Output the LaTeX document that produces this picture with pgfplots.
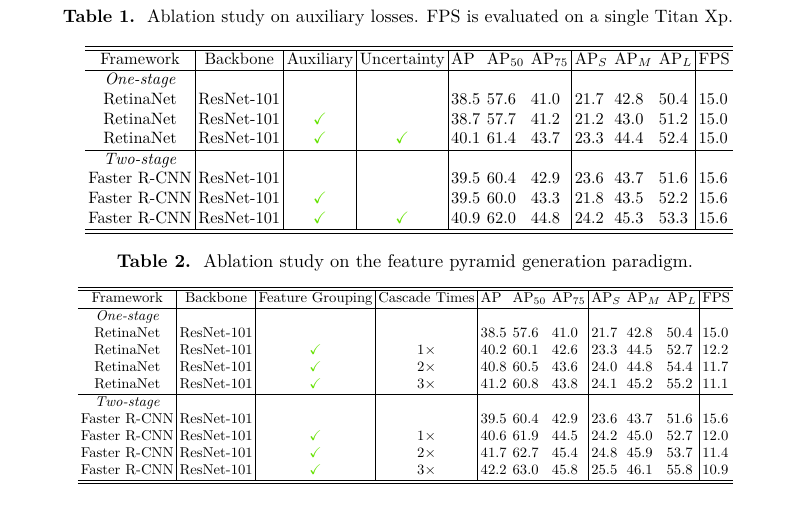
\documentclass[border=0pt]{standalone}
\usepackage{pgfplots}
\pgfplotsset{compat=1.18}
\usepackage{amssymb}
\usepackage{graphicx}
\definecolor{ck}{RGB}{100,225,0}
\newcommand{\ck}{\textcolor{ck}{$\checkmark$}}
\setlength{\tabcolsep}{2pt}
\begin{document}
\begin{tikzpicture}
\begin{axis}[
  width=482.4pt, height=303pt, scale only axis,
  xmin=0, xmax=804, ymin=0, ymax=505, y dir=reverse,
  hide axis, clip=false]
\addplot[draw=none] coordinates {(0,0) (804,505)};
\node[inner sep=0pt] at (axis cs:398,18) {\resizebox{402pt}{!}{\textbf{Table 1.}\ \ Ablation study on auxiliary losses. FPS is evaluated on a single Titan Xp.}};
\node[inner sep=0pt, anchor=north] at (axis cs:409,46) {\resizebox*{388.8pt}{112.2pt}{%
\begin{tabular}{c|c|c|c|lll|lll|l}
\hline\hline
Framework & Backbone & Auxiliary & Uncertainty & AP & AP$_{50}$ & AP$_{75}$ & AP$_S$ & AP$_M$ & AP$_L$ & FPS\\
\hline
\textit{One-stage} & & & & & & & & & & \\
RetinaNet & ResNet-101 & & & 38.5 & 57.6 & 41.0 & 21.7 & 42.8 & 50.4 & 15.0\\
RetinaNet & ResNet-101 & \ck & & 38.7 & 57.7 & 41.2 & 21.2 & 43.0 & 51.2 & 15.0\\
RetinaNet & ResNet-101 & \ck & \ck & 40.1 & 61.4 & 43.7 & 23.3 & 44.4 & 52.4 & 15.0\\
\hline
\textit{Two-stage} & & & & & & & & & & \\
Faster R-CNN & ResNet-101 & & & 39.5 & 60.4 & 42.9 & 23.6 & 43.7 & 51.6 & 15.6\\
Faster R-CNN & ResNet-101 & \ck & & 39.5 & 60.0 & 43.3 & 21.8 & 43.5 & 52.2 & 15.6\\
Faster R-CNN & ResNet-101 & \ck & \ck & 40.9 & 62.0 & 44.8 & 24.2 & 45.3 & 53.3 & 15.6\\
\hline\hline
\end{tabular}}};
\node[inner sep=0pt] at (axis cs:405,263) {\resizebox{345.6pt}{!}{\textbf{Table 2.}\ \ Ablation study on the feature pyramid generation paradigm.}};
\node[inner sep=0pt, anchor=north] at (axis cs:405.5,287) {\resizebox*{393pt}{117.6pt}{%
\begin{tabular}{c|c|c|c|lll|lll|l}
\hline\hline
Framework & Backbone & Feature Grouping & Cascade Times & AP & AP$_{50}$ & AP$_{75}$ & AP$_S$ & AP$_M$ & AP$_L$ & FPS\\
\hline
\textit{One-stage} & & & & & & & & & & \\
RetinaNet & ResNet-101 & & & 38.5 & 57.6 & 41.0 & 21.7 & 42.8 & 50.4 & 15.0\\
RetinaNet & ResNet-101 & \ck & 1$\times$ & 40.2 & 60.1 & 42.6 & 23.3 & 44.5 & 52.7 & 12.2\\
RetinaNet & ResNet-101 & \ck & 2$\times$ & 40.8 & 60.5 & 43.6 & 24.0 & 44.8 & 54.4 & 11.7\\
RetinaNet & ResNet-101 & \ck & 3$\times$ & 41.2 & 60.8 & 43.8 & 24.1 & 45.2 & 55.2 & 11.1\\
\hline
\textit{Two-stage} & & & & & & & & & & \\
Faster R-CNN & ResNet-101 & & & 39.5 & 60.4 & 42.9 & 23.6 & 43.7 & 51.6 & 15.6\\
Faster R-CNN & ResNet-101 & \ck & 1$\times$ & 40.6 & 61.9 & 44.5 & 24.2 & 45.0 & 52.7 & 12.0\\
Faster R-CNN & ResNet-101 & \ck & 2$\times$ & 41.7 & 62.7 & 45.4 & 24.8 & 45.9 & 53.7 & 11.4\\
Faster R-CNN & ResNet-101 & \ck & 3$\times$ & 42.2 & 63.0 & 45.8 & 25.5 & 46.1 & 55.8 & 10.9\\
\hline\hline
\end{tabular}}};
\end{axis}
\end{tikzpicture}
\end{document}
